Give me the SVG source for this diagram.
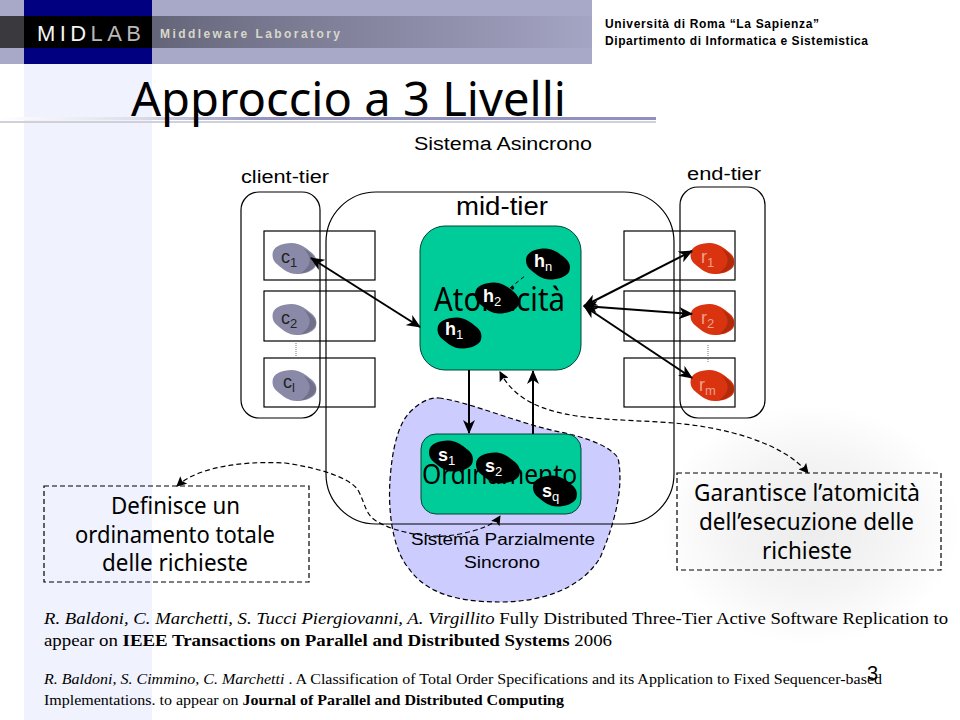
<svg xmlns="http://www.w3.org/2000/svg" width="960" height="720" viewBox="0 0 960 720">
<style>
.s{font-family:"Liberation Sans",Arial,sans-serif;fill:#000}
.t{font-family:"Noto Sans","DejaVu Sans",sans-serif;fill:#000}
.r{font-family:"Liberation Serif","Times New Roman",serif;fill:#000}
.box{fill:none;stroke:#000;stroke-width:1.2}
.cn{fill:none;stroke:#000;stroke-width:2}
.dsh{fill:none;stroke:#000;stroke-width:1.2;stroke-dasharray:5 3}
.w{fill:#fff;font-family:"Liberation Sans",Arial,sans-serif;font-weight:bold;font-size:18px}
.g{fill:#222;font-family:"Liberation Sans",Arial,sans-serif;font-size:18px}
.o{fill:#f2a08c;font-family:"Liberation Sans",Arial,sans-serif;font-size:18px}
.sub{font-size:13px;font-weight:normal}
</style>
<defs>
<linearGradient id="strip" x1="0" x2="1" y1="0" y2="0"><stop offset="0" stop-color="#4c4c5c"/><stop offset=".45" stop-color="#77778f"/><stop offset="1" stop-color="#a4a4c4"/></linearGradient>
<linearGradient id="ul" x1="0" x2="1" y1="0" y2="0"><stop offset="0" stop-color="#fff"/><stop offset=".2" stop-color="#e0e0ec"/><stop offset=".4" stop-color="#9494c0"/><stop offset="1" stop-color="#9090c0"/></linearGradient>
<radialGradient id="haze"><stop offset="0" stop-color="#ececec"/><stop offset=".55" stop-color="#f4f4f4"/><stop offset="1" stop-color="#fff"/></radialGradient>
<path id="peb" d="M-22-4C-22-12-12-15.500-3-15.500C6-15.500 12-10 17-6C22-2 23 3 21 8C18 13 10 15.500 2 15.500C-6 15.500-11 11-16 7C-20 4-22 1-22-4Z"/>
<path id="lobe" d="M9-10C14-7 20-3 21.500 3C22 8 15 13.500 6 15C12 11 16 6 15 0C14-4 12-7 9-10Z"/>
<marker id="a" viewBox="0 0 14 12" refX="13" refY="6" markerWidth="14" markerHeight="12" markerUnits="userSpaceOnUse" orient="auto-start-reverse"><path d="M0 0L14 6L0 12L4 6Z" fill="#000"/></marker>
<marker id="d" viewBox="0 0 10 10" refX="9" refY="5" markerWidth="10" markerHeight="10" markerUnits="userSpaceOnUse" orient="auto-start-reverse"><path d="M0 0L10 5L0 10L2 5Z" fill="#000"/></marker>
</defs>
<rect width="960" height="720" fill="#fff"/>
<ellipse cx="810" cy="525" rx="150" ry="120" fill="url(#haze)"/>
<rect x="24" y="64" width="128" height="656" fill="#f0f2fd"/>
<g id="header">
<rect width="592" height="64" fill="#a8a8c8"/>
<rect x="24" width="128" height="64" fill="#000080"/>
<rect y="16" width="592" height="32" fill="url(#strip)"/>
<rect y="16" width="24" height="32" fill="#3a3a3e"/>
<rect x="24" y="16" width="128" height="32" fill="#000"/>
<text x="37" y="41" font-family="Liberation Sans,sans-serif" font-size="22" textLength="104" lengthAdjust="spacing"><tspan fill="#f4f4f4">MID</tspan><tspan fill="#b8b8b8">LAB</tspan></text>
<text x="160" y="38" font-family="Liberation Sans,sans-serif" font-size="12" font-weight="bold" fill="#d8d8c8" textLength="180" lengthAdjust="spacing">Middleware Laboratory</text>
</g>
<g id="institution">
<text class="s" x="605" y="28" font-size="12" font-weight="bold" textLength="214">Università di Roma “La Sapienza”</text>
<text class="s" x="605" y="45" font-size="12" font-weight="bold" textLength="263">Dipartimento di Informatica e Sistemistica</text>
</g>
<rect x="0" y="121" width="656" height="2" fill="#d0d0d8"/>
<rect x="0" y="117" width="656" height="3" fill="url(#ul)"/>
<text id="title" class="t" x="131" y="116" font-size="48" textLength="435" lengthAdjust="spacingAndGlyphs">Approccio a 3 Livelli</text>
<text class="s" x="414" y="150" font-size="18" textLength="178" lengthAdjust="spacingAndGlyphs">Sistema Asincrono</text>
<text class="s" x="241" y="183" font-size="18" textLength="88" lengthAdjust="spacingAndGlyphs">client-tier</text>
<text class="s" x="687" y="180" font-size="18" textLength="74" lengthAdjust="spacingAndGlyphs">end-tier</text>
<path id="sync-region" d="M439 398C470 402 520 424 560 432C590 438 612 448 618 458C625 490 612 530 600 558C580 590 540 602 500 602C470 602 430 598 410 570C392 550 388 510 390 480C392 450 398 424 410 412C420 402 430 397 439 398Z" fill="#ccccff" stroke="#000" stroke-width="1.2" stroke-dasharray="5 3"/>
<g id="client-tier"><rect class="box" x="241" y="192" width="79" height="226" rx="18"/></g>
<g id="end-tier"><rect class="box" x="680" y="187" width="85" height="231" rx="18"/></g>
<g id="mid-tier"><rect class="box" x="326" y="192" width="348" height="332" rx="50"/><text class="s" x="456" y="215" font-size="25" textLength="92" lengthAdjust="spacingAndGlyphs">mid-tier</text></g>
<g id="rows">
<rect class="box" x="264" y="231" width="111" height="49"/><rect class="box" x="264" y="291" width="111" height="50"/><rect class="box" x="264" y="358" width="111" height="49"/>
<rect class="box" x="624" y="231" width="111" height="49"/><rect class="box" x="624" y="291" width="111" height="50"/><rect class="box" x="624" y="358" width="111" height="49"/>
</g>
<g id="atomicita"><rect x="420" y="226" width="161" height="144" rx="25" fill="#00cc99" stroke="#004433" stroke-width="1"/><text class="t" x="434" y="311" font-size="32" textLength="131" lengthAdjust="spacingAndGlyphs">Atomicità</text></g>
<g id="ordinamento"><rect x="421" y="434" width="160" height="80" rx="15" fill="#00cc99" stroke="#004433" stroke-width="1"/><text class="t" x="422" y="484" font-size="27" textLength="155" lengthAdjust="spacingAndGlyphs">Ordinamento</text></g>
<text class="s" x="411" y="545" font-size="16" textLength="184" lengthAdjust="spacingAndGlyphs">Sistema Parzialmente</text>
<text class="s" x="464" y="568" font-size="16" textLength="76" lengthAdjust="spacingAndGlyphs">Sincrono</text>
<g id="c1"><use href="#peb" transform="translate(294.500,258.500)" fill="#8a8aa8"/><use href="#lobe" transform="translate(294.500,258.500)" fill="#70708a"/><text class="g" x="281" y="263">c<tspan class="sub" dy="4">1</tspan></text></g>
<g id="c2"><use href="#peb" transform="translate(294.500,319.500)" fill="#8a8aa8"/><use href="#lobe" transform="translate(294.500,319.500)" fill="#70708a"/><text class="g" x="281" y="324">c<tspan class="sub" dy="4">2</tspan></text></g>
<g id="cl"><use href="#peb" transform="translate(294.500,385.500)" fill="#8a8aa8"/><use href="#lobe" transform="translate(294.500,385.500)" fill="#70708a"/><text class="g" x="283" y="388">c<tspan class="sub" dy="4">l</tspan></text></g>
<g id="r1"><use href="#peb" transform="translate(712.500,258.500)" fill="#d9330f"/><use href="#lobe" transform="translate(712.500,258.500)" fill="#b02a0c"/><text class="o" x="701" y="263">r<tspan class="sub" dy="4">1</tspan></text></g>
<g id="r2"><use href="#peb" transform="translate(712.500,319.500)" fill="#d9330f"/><use href="#lobe" transform="translate(712.500,319.500)" fill="#b02a0c"/><text class="o" x="701" y="324">r<tspan class="sub" dy="4">2</tspan></text></g>
<g id="rm"><use href="#peb" transform="translate(712.500,385.500)" fill="#d9330f"/><use href="#lobe" transform="translate(712.500,385.500)" fill="#b02a0c"/><text class="o" x="699" y="391">r<tspan class="sub" dy="4">m</tspan></text></g>
<g id="h1"><use href="#peb" transform="translate(459.500,333)"/><text class="w" x="445" y="335">h<tspan class="sub" dy="4">1</tspan></text></g>
<g id="h2"><use href="#peb" transform="translate(497,298)"/><text class="w" x="483" y="302">h<tspan class="sub" dy="4">2</tspan></text></g>
<g id="hn"><use href="#peb" transform="translate(548,264)"/><text class="w" x="534" y="267">h<tspan class="sub" dy="4">n</tspan></text></g>
<g id="s1"><use href="#peb" transform="translate(451,456)"/><text class="w" x="438" y="461">s<tspan class="sub" dy="4">1</tspan></text></g>
<g id="s2"><use href="#peb" transform="translate(498,468)"/><text class="w" x="485" y="472">s<tspan class="sub" dy="4">2</tspan></text></g>
<g id="sq"><use href="#peb" transform="translate(555,491)"/><text class="w" x="542" y="497">s<tspan class="sub" dy="4">q</tspan></text></g>
<g id="connectors">
<path class="cn" d="M311 258L420 327" marker-start="url(#a)" marker-end="url(#a)"/>
<path class="cn" d="M584 306L692 251" marker-start="url(#a)" marker-end="url(#a)"/>
<path class="cn" d="M584 306L692 314" marker-start="url(#a)" marker-end="url(#a)"/>
<path class="cn" d="M584 306L692 378" marker-start="url(#a)" marker-end="url(#a)"/>
<path class="cn" d="M469 370V433" marker-end="url(#a)"/>
<path class="cn" d="M533 434V371" marker-end="url(#a)"/>
<path class="dsh" d="M500 372C525 420 590 418 660 422C730 426 785 445 808 473" marker-start="url(#d)" marker-end="url(#d)"/>
<path class="dsh" d="M177 486C200 465 250 461 285 463C320 468 350 478 358 490C366 505 365 515 378 522C395 532 430 540 460 534C480 530 495 524 500 516" marker-start="url(#d)" marker-end="url(#d)"/>
<path d="M510 288L526 275" fill="none" stroke="#000" stroke-dasharray="4 3"/>
<path d="M296 343V358M708 345V362" fill="none" stroke="#777" stroke-dasharray="1 1"/>
</g>
<g id="note-left"><rect class="dsh" x="44" y="486" width="265" height="96"/>
<g class="t" font-size="23"><text x="111" y="514" textLength="129" lengthAdjust="spacingAndGlyphs">Definisce un</text><text x="75" y="543" textLength="200" lengthAdjust="spacingAndGlyphs">ordinamento totale</text><text x="102" y="571" textLength="146" lengthAdjust="spacingAndGlyphs">delle richieste</text></g></g>
<g id="note-right"><rect class="dsh" x="677" y="473" width="264" height="97"/>
<g class="t" font-size="23"><text x="694" y="501" textLength="226" lengthAdjust="spacingAndGlyphs">Garantisce l’atomicità</text><text x="699" y="530" textLength="215" lengthAdjust="spacingAndGlyphs">dell’esecuzione delle</text><text x="762" y="559" textLength="90" lengthAdjust="spacingAndGlyphs">richieste</text></g></g>
<g id="refs">
<text class="r" x="44" y="624" font-size="17" textLength="904" lengthAdjust="spacingAndGlyphs"><tspan font-style="italic">R. Baldoni, C. Marchetti, S. Tucci Piergiovanni, A. Virgillito </tspan>Fully Distributed Three-Tier Active Software Replication to</text>
<text class="r" x="44" y="646" font-size="17" textLength="568" lengthAdjust="spacingAndGlyphs">appear on  <tspan font-weight="bold">IEEE Transactions on Parallel and Distributed Systems</tspan> 2006</text>
<text class="r" x="44" y="684" font-size="15" textLength="838" lengthAdjust="spacingAndGlyphs"><tspan font-style="italic">R. Baldoni, S. Cimmino, C. Marchetti </tspan> . A Classification of Total Order Specifications and its Application to Fixed Sequencer-based</text>
<text class="r" x="44" y="705" font-size="15" textLength="520" lengthAdjust="spacingAndGlyphs">Implementations. to appear on <tspan font-weight="bold">Journal of Parallel and Distributed Computing</tspan></text>
</g>
<text id="page" class="s" x="867" y="680" font-size="20">3</text>
</svg>
